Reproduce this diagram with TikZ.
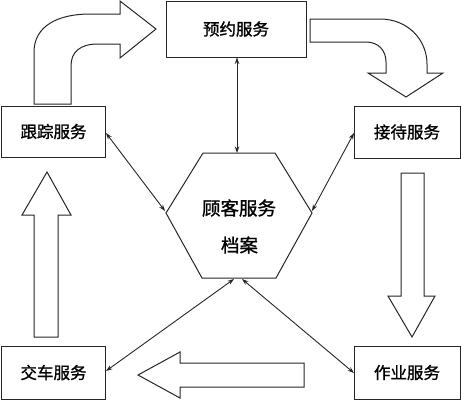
\documentclass[tikz,border=0pt]{standalone}
\usepackage{fontspec}
\newfontfamily\cjk[FakeBold=1.2]{Noto Sans CJK SC}
\usetikzlibrary{arrows.meta}
\begin{document}
\begin{tikzpicture}[x=1pt,y=-1pt,
  ln/.style={draw=black!85,line width=1pt},
  boxnode/.style={ln,rectangle,inner sep=0pt,font=\cjk\fontsize{16.5}{18}\selectfont},
  blockarrow/.style={ln,fill=white,line join=miter},
  link/.style={draw=black!85,line width=0.9pt,{Stealth[length=6.5pt,width=4.5pt]}-{Stealth[length=6.5pt,width=4.5pt]}}]
\useasboundingbox (0,0) rectangle (461,400);
% boxes
\node[boxnode,minimum width=140pt,minimum height=56pt] (yy) at (236,29) {预约服务};
\node[boxnode,minimum width=104pt,minimum height=51pt] (gz) at (53.5,131.5) {跟踪服务};
\node[boxnode,minimum width=106pt,minimum height=52pt] (jd) at (407,132) {接待服务};
\node[boxnode,minimum width=104pt,minimum height=53pt] (jc) at (53.5,372.5) {交车服务};
\node[boxnode,minimum width=106pt,minimum height=53pt] (zy) at (407,372.5) {作业服务};
% hexagon
\coordinate (h1) at (203,153);
\coordinate (h2) at (275,153);
\coordinate (h3) at (312,213);
\coordinate (h4) at (276,278);
\coordinate (h5) at (202,278);
\coordinate (h6) at (166,213);
\draw[ln,line join=miter] (h1) -- (h2) -- (h3) -- (h4) -- (h5) -- (h6) -- cycle;
\node[font=\cjk\fontsize{18.5}{20}\selectfont,align=center,inner sep=0pt] (hx) at (239,208) {顾客服务};
\node[font=\cjk\fontsize{18.5}{20}\selectfont,inner sep=0pt] (hy) at (239.5,245) {档案};
% connector end points on hexagon
\coordinate (ht) at (237,153);
\coordinate (hl) at (165,211);
\coordinate (hr) at (312,211);
\coordinate (hbl) at (234,279);
\coordinate (hbr) at (242,279);
\coordinate (gze) at (106,133);
\coordinate (jdw) at (354,133);
\coordinate (jce) at (106,371);
\coordinate (zyw) at (354,373);
\draw[link] (yy.south -| ht) -- (ht);
\draw[link] (gze) -- (hl);
\draw[link] (jdw) -- (hr);
\draw[link] (jce) -- (hbl);
\draw[link] (zyw) -- (hbr);
% block arrows
\draw[blockarrow] (34,104) -- (34,52) .. controls (34,26) and (58,14) .. (90,14) -- (120,14) -- (120,1) -- (156,29) -- (120,58) -- (120,44) -- (98,44) .. controls (80,44) and (71,52) .. (71,66) -- (71,104) -- cycle;
\draw[blockarrow] (310,19) -- (380,19) .. controls (408,19) and (427,40) .. (427,64) -- (427,73) -- (443,73) -- (406,97) -- (368,73) -- (386,73) -- (386,62) .. controls (386,50) and (378,42) .. (366,42) -- (310,42) -- cycle;
\draw[blockarrow] (401,173) -- (424,173) -- (424,296) -- (435,296) -- (412,337) -- (388,296) -- (401,296) -- cycle;
\draw[blockarrow] (34,337) -- (34,215) -- (22,215) -- (47,172) -- (71,215) -- (58,215) -- (58,337) -- cycle;
\draw[blockarrow] (304,363) -- (180,363) -- (180,352) -- (138,375) -- (180,398) -- (180,387) -- (304,387) -- cycle;
\end{tikzpicture}
\end{document}
